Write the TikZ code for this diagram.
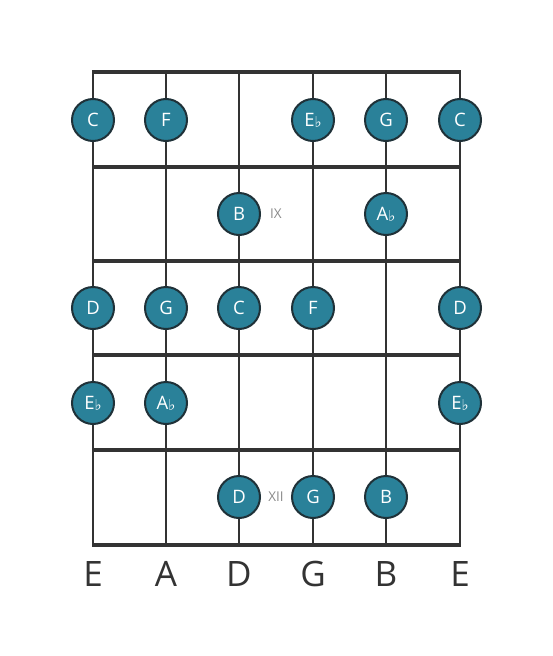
\documentclass[tikz,border=0pt]{standalone}
\usepackage{fontspec}
\setmainfont{Open Sans}
\newfontfamily\flatfont{DejaVu Sans}
\newcommand{\fl}{{\flatfont\fontsize{15}{15}\selectfont\raisebox{-1pt}{♭}}}

\definecolor{notefill}{HTML}{2A8199}
\definecolor{notering}{HTML}{1F3138}
\definecolor{boardgray}{HTML}{333333}
\definecolor{markgray}{HTML}{8A8A8A}

\tikzset{
  note/.style={circle, draw=notering, line width=2pt, fill=notefill,
    minimum size=42pt, inner sep=0pt, text=white,
    font=\fontsize{18.5}{18.5}\selectfont},
  fretline/.style={line width=4.5pt, boardgray},
  stringline/.style={line width=2pt, boardgray},
  tuning/.style={text=boardgray, font=\fontsize{35}{35}\selectfont},
  position/.style={text=markgray, font=\fontsize{13.5}{13.5}\selectfont}
}

\begin{document}
\begin{tikzpicture}[x=1pt, y=-1pt]
\useasboundingbox (0,0) rectangle (553,656);

%strings
\foreach \s/\x in {1/93, 2/166, 3/239, 4/313, 5/386, 6/460}{
  \coordinate (s\s t) at (\x,72);
  \coordinate (s\s b) at (\x,545);
  \draw[stringline] (s\s t) -- (s\s b);
}

%frets
\foreach \f/\y in {0/72, 1/167, 2/261, 3/355, 4/450, 5/545}{
  \coordinate (f\f l) at (92,\y);
  \coordinate (f\f r) at (461,\y);
  \draw[fretline] (f\f l) -- (f\f r);
}

%row 1
\node[note] (c1) at (93,120) {C};
\node[note] (f1) at (166,120) {F};
\node[note] (eb1) at (313,120) {E\fl};
\node[note] (g1) at (386,120) {G};
\node[note] (c2) at (460,120) {C};

%row 2
\node[note] (b1) at (239,214) {B};
\node[note] (ab1) at (386,214) {A\fl};
\node[position] (ix) at (276,214) {IX};

%row 3
\node[note] (d1) at (93,308) {D};
\node[note] (g2) at (166,308) {G};
\node[note] (c3) at (239,308) {C};
\node[note] (f2) at (313,308) {F};
\node[note] (d2) at (460,308) {D};

%row 4
\node[note] (eb2) at (93,403) {E\fl};
\node[note] (ab2) at (166,403) {A\fl};
\node[note] (eb3) at (460,403) {E\fl};

%row 5
\node[note] (d3) at (239,497) {D};
\node[note] (g3) at (313,497) {G};
\node[note] (b2) at (386,497) {B};
\node[position] (xii) at (276,497) {XII};

%open strings
\node[tuning] (e1) at (93,574) {E};
\node[tuning] (a1) at (166,574) {A};
\node[tuning] (d4) at (239,574) {D};
\node[tuning] (g4) at (313,574) {G};
\node[tuning] (b3) at (386,574) {B};
\node[tuning] (e2) at (460,574) {E};

\end{tikzpicture}
\end{document}
